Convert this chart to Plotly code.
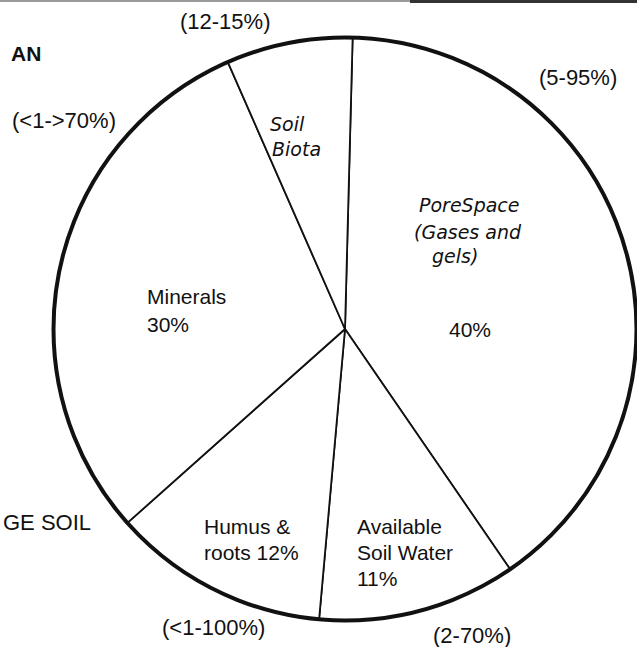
import plotly.graph_objects as go

# Average soil composition, slices clockwise from 12 o'clock
components = ["Pore Space", "Available Soil Water", "Humus & roots", "Minerals", "Soil Biota"]
shares = [40, 11, 12, 30, 7]
ranges = ["(5-95%)", "(2-70%)", "(<1-100%)", "(<1->70%)", "(12-15%)"]

W, H = 637, 647
CX, CY, R = 345, 329, 291.5


def px(x):
    return x / W


def py(y):
    return 1 - y / H


dom_x = [px(CX - R), min(1.0, px(CX + R))]
dom_y = [py(CY + R), py(CY - R)]

fig = go.Figure()

# slice fills and radial dividers
fig.add_trace(go.Pie(
    labels=components,
    values=shares,
    sort=False,
    direction="clockwise",
    rotation=1.5,
    domain=dict(x=dom_x, y=dom_y),
    marker=dict(colors=["white"] * len(shares), line=dict(color="#111111", width=1.8)),
    textinfo="none",
    hoverinfo="skip",
    showlegend=False,
))

# heavier outer rim
fig.add_trace(go.Pie(
    labels=["rim"],
    values=[1],
    sort=False,
    domain=dict(x=dom_x, y=dom_y),
    marker=dict(colors=["rgba(0,0,0,0)"], line=dict(color="#111111", width=4)),
    textinfo="none",
    hoverinfo="skip",
    showlegend=False,
))

PRINT = dict(family="Liberation Sans, Arial, sans-serif", size=21, color="#111111")
RANGE = dict(family="Liberation Sans, Arial, sans-serif", size=22, color="#111111")
HAND = dict(family="DejaVu Sans, sans-serif", size=19, color="#111111")


def label(lines, x, y0, step, font, anchor="left"):
    for i, t in enumerate(lines):
        fig.add_annotation(
            x=px(x), y=py(y0 + i * step), xref="paper", yref="paper",
            text=t, showarrow=False, xanchor=anchor, yanchor="middle",
            font=font,
        )


# printed slice labels
label(["Minerals", "30%"], 145, 297, 27, PRINT)
label(["Humus &", "roots 12%"], 202, 526, 26, PRINT)
label(["Available", "Soil Water", "11%"], 355, 526, 26, PRINT)
label(["40%"], 447, 330, 26, PRINT)

# handwritten slice labels
label(["<i>PoreSpace</i>"], 417, 205, 20, HAND)
label(["<i>(Gases and</i>"], 412, 232, 20, HAND)
label(["<i>gels)</i>"], 430, 256, 20, HAND)
label(["<i>Soil</i>"], 268, 124, 25, HAND)
label(["<i>Biota</i>"], 270, 149, 25, HAND)

# typical ranges around the rim
range_pos = {
    "(5-95%)": (578, 77),
    "(2-70%)": (472, 635),
    "(<1-100%)": (213, 627),
    "(<1->70%)": (64, 120),
    "(12-15%)": (225, 22),
}
for r in ranges:
    x, y = range_pos[r]
    label([r], x, y, 0, RANGE, anchor="center")

# title fragments at the page edge
label(["<b>AN</b>"], 9, 53, 0, dict(family="Liberation Sans Narrow, Liberation Sans, sans-serif", size=21, color="#111111"))
label(["GE SOIL"], 93, 522, 0, RANGE, anchor="right")

# frame rule along the top edge
fig.add_shape(type="line", xref="paper", yref="paper", x0=0, x1=px(410), y0=py(1), y1=py(1),
              line=dict(color="#9a9a9a", width=2))
fig.add_shape(type="line", xref="paper", yref="paper", x0=px(410), x1=1, y0=py(1.5), y1=py(1.5),
              line=dict(color="#333333", width=3))

fig.update_layout(
    width=W, height=H,
    margin=dict(l=0, r=0, t=0, b=0),
    paper_bgcolor="white",
    plot_bgcolor="white",
    showlegend=False,
)

fig.write_html("out.html")
